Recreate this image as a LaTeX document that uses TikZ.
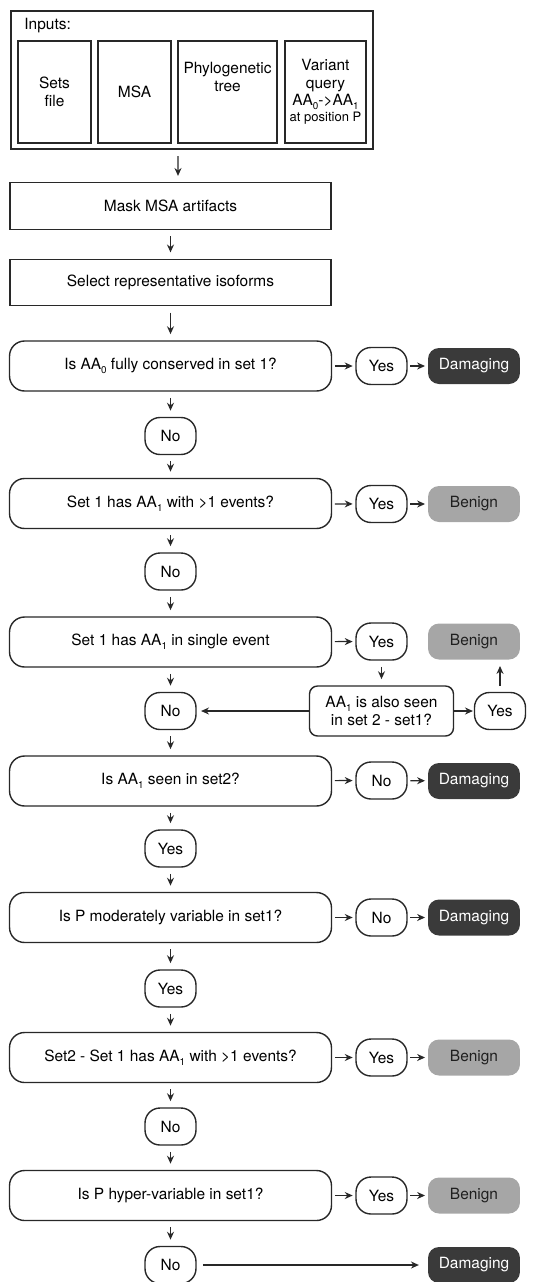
\documentclass[tikz,border=0pt]{standalone}
\usepackage{fontspec}
\setmainfont{TeX Gyre Heros}
\usetikzlibrary{arrows.meta,positioning}
\definecolor{line-grey}{RGB}{40,40,40}
\definecolor{dmg-dark}{RGB}{58,58,58}
\definecolor{ben-grey}{RGB}{166,166,166}
\newcommand{\aasub}[1]{\raisebox{-0.45ex}{\fontsize{5.6}{6}\selectfont #1}}

\begin{document}
\begin{tikzpicture}[x=0.02cm, y=-0.02cm, font=\fontsize{8.8}{10}\selectfont,
    outerbox/.style={rectangle, draw=line-grey, line width=1pt, minimum width=7.24cm, minimum height=2.76cm},
    inbox/.style={rectangle, draw=line-grey, line width=0.8pt, minimum height=2.04cm, align=center, inner sep=1pt},
    stepbox/.style={rectangle, draw=line-grey, line width=0.8pt, minimum width=6.42cm, minimum height=0.93cm},
    question/.style={rectangle, draw=line-grey, line width=0.8pt, rounded corners=0.3cm, minimum width=6.44cm, minimum height=1.0cm, align=center},
    checkbox/.style={rectangle, draw=line-grey, line width=0.8pt, rounded corners=0.16cm, minimum width=2.88cm, minimum height=1.0cm, align=center, inner sep=1pt},
    answer/.style={rectangle, draw=line-grey, line width=0.8pt, rounded corners=0.3cm, minimum width=1.02cm, minimum height=0.74cm},
    damaging/.style={rectangle, rounded corners=0.22cm, fill=dmg-dark, text=white, minimum width=1.84cm, minimum height=0.72cm},
    benign/.style={rectangle, rounded corners=0.22cm, fill=ben-grey, text=black!88, minimum width=1.84cm, minimum height=0.72cm},
    flow/.style={draw=line-grey, line width=0.7pt, -{Stealth[length=4.5pt,width=4pt]}, shorten <=3.5pt, shorten >=3.5pt},
    side/.style={draw=line-grey, line width=0.7pt, -{Stealth[length=4.5pt,width=4pt]}, shorten <=1.5pt, shorten >=1.5pt}]

    \useasboundingbox (0,0) rectangle (536,1282);

    % Inputs
    \node[outerbox] (inputs) at (192,80) {};
    \node[anchor=west, inner sep=0pt] (inlabel) at (24,26) {Inputs:};
    \node[inbox, minimum width=1.46cm] (sets) at (54.5,92) {Sets\\file};
    \node[inbox, minimum width=1.46cm] (msa) at (134.5,92) {MSA};
    \node[inbox, minimum width=1.98cm] (phylo) at (227.5,92) {};
    \node[align=center, inner sep=0pt] (phylotxt) at (227.5,77) {Phylogenetic\\tree};
    \node[inbox, minimum width=1.62cm] (variant) at (325.5,92) {Variant\\query\\AA\aasub{0}->AA\aasub{1}\\[-1pt]{\fontsize{7.4}{8}\selectfont at position P}};

    % Preprocessing
    \node[stepbox] (mask) at (170.5,206) {Mask MSA artifacts};
    \node[stepbox] (select) at (170.5,282.5) {Select representative isoforms};

    % Main column of questions
    \node[question] (q1) at (170.5,366) {Is AA\aasub{0} fully conserved in set 1?};
    \node[answer] (no1) at (170.5,436) {No};
    \node[question] (q2) at (170.5,503.5) {Set 1 has AA\aasub{1} with >1 events?};
    \node[answer] (no2) at (170.5,571.5) {No};
    \node[question] (q3) at (170.5,642) {Set 1 has AA\aasub{1} in single event};
    \node[answer] (no3) at (170.5,711) {No};
    \node[question] (q4) at (170.5,781) {Is AA\aasub{1} seen in set2?};
    \node[answer] (yes5) at (170.5,848.5) {Yes};
    \node[question] (q5) at (170.5,917.5) {Is P moderately variable in set1?};
    \node[answer] (yes6) at (170.5,988.5) {Yes};
    \node[question] (q6) at (170.5,1057.5) {Set2 - Set 1 has AA\aasub{1} with >1 events?};
    \node[answer] (no7) at (170.5,1126.5) {No};
    \node[question] (q7) at (170.5,1195.5) {Is P hyper-variable in set1?};
    \node[answer] (no8) at (170.5,1265) {No};

    % Answers on the right
    \node[answer] (yes1) at (381.5,366) {Yes};
    \node[damaging] (dmg1) at (474,366) {Damaging};
    \node[answer] (yes2) at (381.5,504) {Yes};
    \node[benign] (ben2) at (474,504) {Benign};
    \node[answer] (yes3) at (381.5,641.5) {Yes};
    \node[benign] (ben3) at (474,641.5) {Benign};
    \node[checkbox] (chk) at (381.5,711) {AA\aasub{1} is also seen\\in set 2 - set1?};
    \node[answer] (yes4) at (500,711) {Yes};
    \node[answer] (no4) at (381.5,780.5) {No};
    \node[damaging] (dmg4) at (474,781) {Damaging};
    \node[answer] (no5) at (381.5,917.5) {No};
    \node[damaging] (dmg5) at (474,917.5) {Damaging};
    \node[answer] (yes7) at (381.5,1057.5) {Yes};
    \node[benign] (ben7) at (474,1057.5) {Benign};
    \node[answer] (yes8) at (381.5,1195.5) {Yes};
    \node[benign] (ben8) at (474,1195.5) {Benign};
    \node[damaging] (dmg8) at (474,1265) {Damaging};

    % Arrows down the column
    \draw[flow] ([xshift=-0.28cm]inputs.south) -- ([xshift=0.15cm]mask.north);
    \draw[flow] (mask) -- (select);
    \draw[flow] (select) -- (q1);
    \draw[flow] (q1) -- (no1);
    \draw[flow] (no1) -- (q2);
    \draw[flow] (q2) -- (no2);
    \draw[flow] (no2) -- (q3);
    \draw[flow] (q3) -- (no3);
    \draw[flow] (no3) -- (q4);
    \draw[flow] (q4) -- (yes5);
    \draw[flow] (yes5) -- (q5);
    \draw[flow] (q5) -- (yes6);
    \draw[flow] (yes6) -- (q6);
    \draw[flow] (q6) -- (no7);
    \draw[flow] (no7) -- (q7);
    \draw[flow] (q7) -- (no8);

    % Arrows to the right
    \draw[side] (q1) -- (yes1);
    \draw[side] (yes1) -- (dmg1);
    \draw[side] (q2) -- (yes2);
    \draw[side] (yes2) -- (ben2);
    \draw[side] (q3) -- (yes3);
    \draw[flow] (yes3) -- (chk);
    \draw[side, shorten <=0pt, shorten >=0.5pt] (chk) -- (yes4);
    \draw[flow] (yes4.north) -- (yes4.north |- ben3.south);
    \draw[side, shorten <=0pt, shorten >=2.5pt] (chk) -- (no3);
    \draw[side] (q4) -- (no4);
    \draw[side] (no4) -- (dmg4);
    \draw[side] (q5) -- (no5);
    \draw[side] (no5) -- (dmg5);
    \draw[side] (q6) -- (yes7);
    \draw[side] (yes7) -- (ben7);
    \draw[side] (q7) -- (yes8);
    \draw[side] (yes8) -- (ben8);
    \draw[side, shorten <=3.5pt, shorten >=5pt] (no8) -- (dmg8);
\end{tikzpicture}
\end{document}
